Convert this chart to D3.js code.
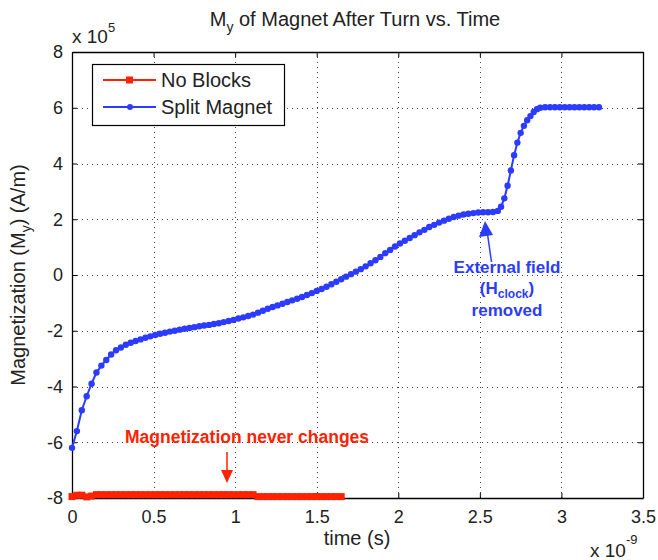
<!DOCTYPE html>
<html><head><meta charset="utf-8">
<script src="https://cdn.jsdelivr.net/npm/d3@7"></script>
<style>body{margin:0;background:#fff;} svg{display:block;font-family:"Liberation Sans",Arial,Helvetica,sans-serif;}</style>
</head><body>
<svg id="c" width="658" height="560"></svg>
<script>
// ---- data (time in ns, magnetization in 1e5 A/m) ----
const xTicks = [0, 0.5, 1, 1.5, 2, 2.5, 3, 3.5];
const xTickLabels = ["0", "0.5", "1", "1.5", "2", "2.5", "3", "3.5"];
const yTicks = [-8, -6, -4, -2, 0, 2, 4, 6, 8];
const yTickLabels = ["-8", "-6", "-4", "-2", "0", "2", "4", "6", "8"];

const redTime = [0,0.03,0.06,0.09,0.12,0.15,0.18,0.21,0.24,0.27,0.30,0.33,0.36,0.39,0.42,0.45,0.48,0.51,0.54,0.57,0.60,0.63,0.66,0.69,0.72,0.75,0.78,0.81,0.84,0.87,0.90,0.93,0.96,0.99,1.02,1.05,1.08,1.11,1.14,1.17,1.20,1.23,1.26,1.29,1.32,1.35,1.38,1.41,1.44,1.47,1.50,1.53,1.56,1.59,1.62,1.65];
const redMy = [-7.95,-7.9,-7.9,-7.96,-7.93,-7.88,-7.88,-7.88,-7.88,-7.88,-7.88,-7.88,-7.88,-7.88,-7.88,-7.88,-7.88,-7.88,-7.88,-7.88,-7.88,-7.88,-7.88,-7.88,-7.88,-7.88,-7.88,-7.88,-7.88,-7.88,-7.88,-7.88,-7.88,-7.88,-7.88,-7.88,-7.88,-7.88,-7.95,-7.95,-7.95,-7.95,-7.95,-7.95,-7.95,-7.95,-7.95,-7.95,-7.95,-7.95,-7.95,-7.95,-7.95,-7.95,-7.95,-7.95];

const blueTime = [0,0.03,0.06,0.09,0.12,0.15,0.18,0.21,0.24,0.27,0.30,0.33,0.36,0.39,0.42,0.45,0.48,0.51,0.54,0.57,0.60,0.63,0.66,0.69,0.72,0.75,0.78,0.81,0.84,0.87,0.90,0.93,0.96,0.99,1.02,1.05,1.08,1.11,1.14,1.17,1.20,1.23,1.26,1.29,1.32,1.35,1.38,1.41,1.44,1.47,1.50,1.53,1.56,1.59,1.62,1.65,1.68,1.71,1.74,1.77,1.80,1.83,1.86,1.89,1.92,1.95,1.98,2.01,2.04,2.07,2.10,2.13,2.16,2.19,2.22,2.25,2.28,2.31,2.34,2.37,2.40,2.43,2.46,2.49,2.52,2.55,2.58,2.61,2.63,2.65,2.67,2.69,2.71,2.73,2.75,2.77,2.79,2.81,2.83,2.85,2.87,2.90,2.93,2.96,2.99,3.02,3.05,3.08,3.11,3.14,3.17,3.20,3.23];
const blueMy = [-6.2,-5.6,-4.85,-4.35,-3.9,-3.5,-3.25,-3.05,-2.85,-2.7,-2.6,-2.5,-2.43,-2.37,-2.31,-2.25,-2.2,-2.15,-2.11,-2.07,-2.03,-2.0,-1.96,-1.93,-1.9,-1.87,-1.84,-1.81,-1.79,-1.76,-1.73,-1.69,-1.65,-1.61,-1.56,-1.52,-1.47,-1.42,-1.35,-1.28,-1.21,-1.15,-1.09,-1.03,-0.97,-0.91,-0.85,-0.79,-0.72,-0.65,-0.57,-0.5,-0.42,-0.33,-0.24,-0.15,-0.06,0.03,0.12,0.21,0.31,0.42,0.53,0.65,0.78,0.9,1.02,1.13,1.23,1.33,1.43,1.53,1.62,1.72,1.8,1.88,1.95,2.02,2.08,2.13,2.17,2.2,2.22,2.24,2.25,2.25,2.26,2.3,2.45,2.75,3.2,3.75,4.3,4.75,5.1,5.35,5.55,5.7,5.85,5.95,6.0,6.02,6.02,6.02,6.02,6.02,6.02,6.02,6.02,6.02,6.02,6.02,6.02];

const RED = "#ff2200", BLUE = "#2b3bff", TXT = "#222";

const svg = d3.select("#c");
const x = d3.scaleLinear().domain([0, 3.5]).range([72, 643]);
const y = d3.scaleLinear().domain([-8, 8]).range([498, 52]);

// grid
const grid = svg.append("g").attr("stroke", "#444").attr("stroke-width", 1).attr("stroke-dasharray", "1,4");
grid.selectAll(".gx").data(xTicks.slice(1, -1)).join("line")
  .attr("x1", d => Math.round(x(d)) + 0.5).attr("x2", d => Math.round(x(d)) + 0.5)
  .attr("y1", y(8)).attr("y2", y(-8));
grid.selectAll(".gy").data(yTicks.slice(1, -1)).join("line")
  .attr("y1", d => Math.round(y(d)) + 0.5).attr("y2", d => Math.round(y(d)) + 0.5)
  .attr("x1", x(0)).attr("x2", x(3.5));

// axes (MATLAB style: inward ticks on all four sides)
const fmtX = (d, i) => xTickLabels[i];
const fmtY = (d, i) => yTickLabels[i];
const axB = svg.append("g").attr("transform", `translate(0,${y(-8)})`)
  .call(d3.axisBottom(x).tickValues(xTicks).tickFormat(fmtX).tickSizeInner(-5).tickSizeOuter(0).tickPadding(12));
const axT = svg.append("g").attr("transform", `translate(0,${y(8)})`)
  .call(d3.axisTop(x).tickValues(xTicks).tickFormat("").tickSizeInner(-5).tickSizeOuter(0));
const axL = svg.append("g").attr("transform", `translate(${x(0)},0)`)
  .call(d3.axisLeft(y).tickValues(yTicks).tickFormat(fmtY).tickSizeInner(-5).tickSizeOuter(0).tickPadding(9));
const axR = svg.append("g").attr("transform", `translate(${x(3.5)},0)`)
  .call(d3.axisRight(y).tickValues(yTicks).tickFormat("").tickSizeInner(-5).tickSizeOuter(0));
[axB, axT, axL, axR].forEach(a => {
  a.select(".domain").attr("stroke", "#000").attr("stroke-width", 1.3);
  a.selectAll(".tick line").attr("stroke", "#000");
  a.selectAll("text").attr("font-size", 18).attr("fill", TXT)
    .attr("font-family", "'Liberation Sans',Arial,sans-serif");
});

// data lines
const blue = blueTime.map((t, i) => [t, blueMy[i]]);
const red = redTime.map((t, i) => [t, redMy[i]]);
const line = d3.line().x(d => x(d[0])).y(d => y(d[1]));

svg.append("path").datum(red).attr("d", line).attr("fill", "none").attr("stroke", RED).attr("stroke-width", 2);
svg.append("g").selectAll("rect").data(red).join("rect")
  .attr("x", d => x(d[0]) - 3.5).attr("y", d => y(d[1]) - 3.5).attr("width", 7).attr("height", 7).attr("fill", RED);

svg.append("path").datum(blue).attr("d", line).attr("fill", "none").attr("stroke", BLUE).attr("stroke-width", 2);
svg.append("g").selectAll("circle").data(blue).join("circle")
  .attr("cx", d => x(d[0])).attr("cy", d => y(d[1])).attr("r", 3.2).attr("fill", BLUE);

// legend
const lg = svg.append("g");
lg.append("rect").attr("x", 92.5).attr("y", 64.5).attr("width", 192).attr("height", 61)
  .attr("fill", "#fff").attr("stroke", "#000").attr("stroke-width", 1.2);
const legendItems = [{label: "No Blocks", color: RED, mark: "square", yy: 80},
                     {label: "Split Magnet", color: BLUE, mark: "dot", yy: 107}];
legendItems.forEach(it => {
  lg.append("line").attr("x1", 103).attr("x2", 156).attr("y1", it.yy).attr("y2", it.yy)
    .attr("stroke", it.color).attr("stroke-width", 2);
  if (it.mark === "square") lg.append("rect").attr("x", 126).attr("y", it.yy - 3.5).attr("width", 7).attr("height", 7).attr("fill", it.color);
  else lg.append("circle").attr("cx", 130).attr("cy", it.yy).attr("r", 3).attr("fill", it.color);
  lg.append("text").attr("x", 161).attr("y", it.yy + 7).attr("font-size", 20).attr("fill", TXT).text(it.label);
});

// title
const title = svg.append("text").attr("x", 355).attr("y", 26).attr("text-anchor", "middle").attr("font-size", 20).attr("fill", TXT);
title.append("tspan").text("M");
title.append("tspan").attr("font-size", 14).attr("dy", 6).text("y");
title.append("tspan").attr("dy", -6).text(" of Magnet After Turn vs. Time");

// y axis label
const yl = svg.append("text").attr("transform", "translate(25,275) rotate(-90)").attr("text-anchor", "middle")
  .attr("font-size", 20).attr("fill", TXT);
yl.append("tspan").text("Magnetization (M");
yl.append("tspan").attr("font-size", 14).attr("dy", 6).text("y");
yl.append("tspan").attr("dy", -6).text(") (A/m)");

// x axis label
svg.append("text").attr("x", 357).attr("y", 545).attr("text-anchor", "middle").attr("font-size", 20).attr("fill", TXT).text("time (s)");

// exponents
const e5 = svg.append("text").attr("x", 72).attr("y", 43).attr("font-size", 19).attr("fill", TXT);
e5.append("tspan").text("x 10");
e5.append("tspan").attr("font-size", 13).attr("dy", -11).text("5");
const e9 = svg.append("text").attr("x", 590).attr("y", 557).attr("font-size", 19).attr("fill", TXT);
e9.append("tspan").text("x 10");
e9.append("tspan").attr("font-size", 13).attr("dy", -13).text("-9");

// annotations
svg.append("text").attr("x", 247).attr("y", 443).attr("text-anchor", "middle").attr("font-size", 17.5)
  .attr("font-weight", "bold").attr("fill", RED).text("Magnetization never changes");
svg.append("line").attr("x1", x(0.95)).attr("x2", x(0.95)).attr("y1", 452).attr("y2", 472).attr("stroke", RED).attr("stroke-width", 1.5);
svg.append("path").attr("d", `M${x(0.95) - 6},470 L${x(0.95) + 6},470 L${x(0.95)},483 Z`).attr("fill", RED);

const ab = svg.append("g").attr("font-size", 17).attr("font-weight", "bold").attr("fill", BLUE).attr("text-anchor", "middle");
ab.append("text").attr("x", 507).attr("y", 273).text("External field");
const hc = ab.append("text").attr("x", 507).attr("y", 294);
hc.append("tspan").text("(H");
hc.append("tspan").attr("font-size", 12).attr("dy", 4).text("clock");
hc.append("tspan").attr("dy", -4).text(")");
ab.append("text").attr("x", 507).attr("y", 316).text("removed");
svg.append("line").attr("x1", 491.5).attr("y1", 262).attr("x2", 487.5).attr("y2", 234).attr("stroke", BLUE).attr("stroke-width", 1.5);
svg.append("path").attr("d", "M485,221 L493,235 L479,237 Z").attr("fill", BLUE);
</script>
</body></html>
